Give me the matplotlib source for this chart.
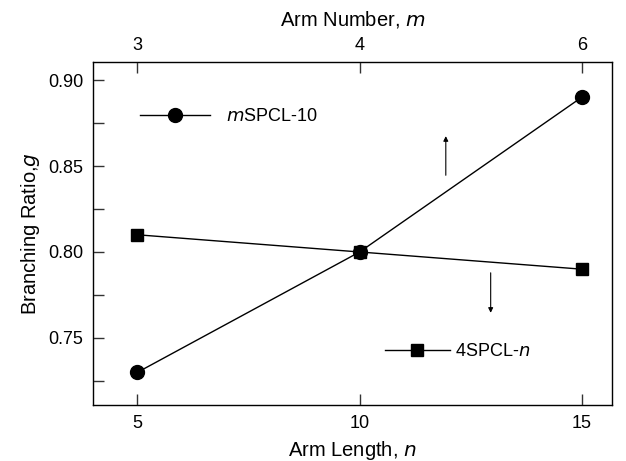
import matplotlib.pyplot as plt
from matplotlib.lines import Line2D
from matplotlib.ticker import MultipleLocator

plt.rcParams['font.family'] = ['Liberation Sans', 'DejaVu Sans']

# data
arm_length = [5, 10, 15]
arm_number_labels = ['3', '4', '6']
g_mspcl = [0.73, 0.80, 0.89]   # mSPCL-10, vs arm number (top axis)
g_4spcl = [0.81, 0.80, 0.79]   # 4SPCL-n, vs arm length (bottom axis)

fig = plt.figure(figsize=(6.26, 4.61), dpi=100)
ax = fig.add_axes([0.1486, 0.1215, 0.829, 0.744])

ax.plot(arm_length, g_mspcl, color='black', lw=1, marker='o', ms=10)
ax.plot(arm_length, g_4spcl, color='black', lw=1, marker='s', ms=8.5)

ax.set_xlim(4.0, 15.68)
ax.set_ylim(0.711, 0.9105)
ax.set_xticks(arm_length)
ax.set_yticks([0.75, 0.80, 0.85, 0.90])
ax.yaxis.set_minor_locator(MultipleLocator(0.025))
ax.set_yticklabels(['0.75', '0.80', '0.85', '0.90'])
ax.tick_params(direction='in', labelsize=13, length=8, width=1, pad=7,
               color='#333333')
ax.tick_params(which='minor', direction='in', length=8, width=1,
               color='#333333')
ax.tick_params(axis='y', right=False)
for s in ax.spines.values():
    s.set_linewidth(1)
    s.set_color('#333333')

ax.set_xlabel('Arm Length, $\\it{n}$', fontsize=14.5, labelpad=5)
ax.set_ylabel('Branching Ratio,$\\it{g}$', fontsize=14.5, labelpad=4)

top = ax.twiny()
top.set_xlim(ax.get_xlim())
top.set_xticks(arm_length)
top.set_xticklabels(arm_number_labels)
top.tick_params(direction='in', labelsize=13, length=8, width=1, pad=6,
                color='#333333')
top.set_xlabel('Arm Number, $\\it{m}$', fontsize=14.5, labelpad=8)

# arrows showing which axis each series belongs to
ax.annotate('', xy=(11.94, 0.869), xytext=(11.94, 0.843),
            arrowprops=dict(arrowstyle='-|>', color='black', lw=0.8,
                            mutation_scale=7))
ax.annotate('', xy=(12.95, 0.763), xytext=(12.95, 0.7895),
            arrowprops=dict(arrowstyle='-|>', color='black', lw=0.8,
                            mutation_scale=7))

h1 = Line2D([], [], color='black', lw=1, marker='o', ms=10)
h2 = Line2D([], [], color='black', lw=1, marker='s', ms=8.5)
leg1 = ax.legend([h1], ['$\\it{m}$SPCL-10'], loc='center left',
                 bbox_to_anchor=(0.09, 0.84), frameon=False, fontsize=13,
                 handlelength=3.9, handletextpad=0.9, borderpad=0,
                 borderaxespad=0)
ax.add_artist(leg1)
ax.legend([h2], ['4SPCL-$\\it{n}$'], loc='center left',
          bbox_to_anchor=(0.562, 0.155), frameon=False, fontsize=13,
          handlelength=3.6, handletextpad=0.3, borderpad=0,
          borderaxespad=0)

fig.savefig('out.png', dpi=100)
